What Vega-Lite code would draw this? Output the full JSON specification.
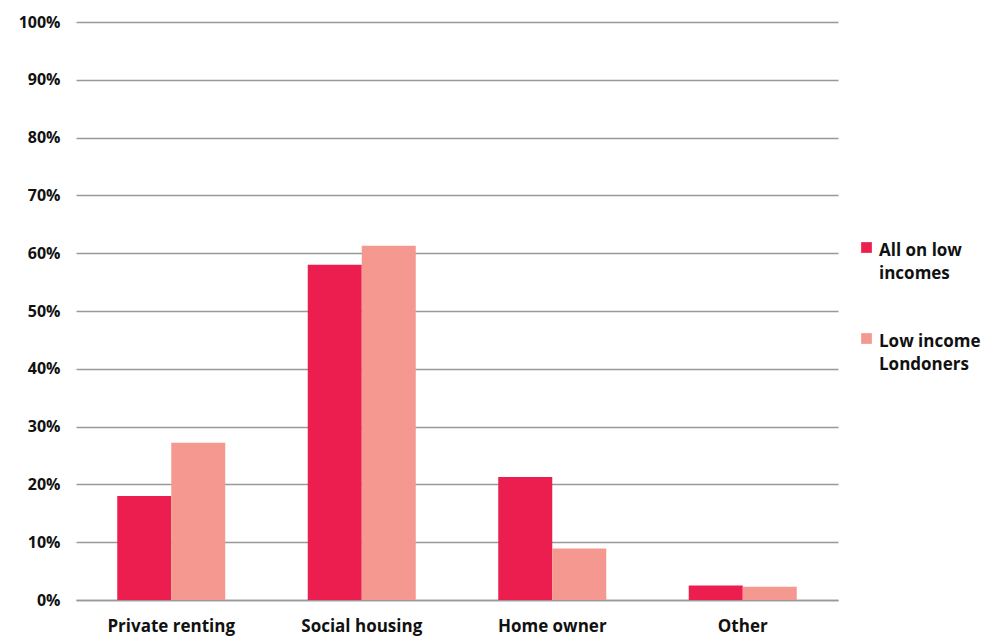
{
  "$schema": "https://vega.github.io/schema/vega-lite/v6.json",
  "width": 762,
  "height": 578,
  "autosize": {"type": "none"},
  "padding": {"left": 76, "top": 22, "right": 151, "bottom": 40},
  "background": "white",
  "config": {
    "view": {"stroke": null},
    "font": "Open Sans"
  },
  "data": {
    "values": [
      {"tenure": "Private renting", "group": "All on low incomes", "value": 18.0},
      {"tenure": "Private renting", "group": "Low income Londoners", "value": 27.2},
      {"tenure": "Social housing", "group": "All on low incomes", "value": 58.0},
      {"tenure": "Social housing", "group": "Low income Londoners", "value": 61.3},
      {"tenure": "Home owner", "group": "All on low incomes", "value": 21.3},
      {"tenure": "Home owner", "group": "Low income Londoners", "value": 8.9},
      {"tenure": "Other", "group": "All on low incomes", "value": 2.5},
      {"tenure": "Other", "group": "Low income Londoners", "value": 2.3}
    ]
  },
  "mark": {"type": "bar"},
  "encoding": {
    "x": {
      "field": "tenure",
      "type": "nominal",
      "sort": ["Private renting", "Social housing", "Home owner", "Other"],
      "scale": {"paddingInner": 0.433, "paddingOuter": 0.2165},
      "axis": {
        "title": null,
        "labelAngle": 0,
        "labelFontSize": 17,
        "labelFontWeight": "bold",
        "labelColor": "#111",
        "labelPadding": 18,
        "ticks": false,
        "domainColor": "#999",
        "domainWidth": 1.5
      }
    },
    "xOffset": {
      "field": "group",
      "type": "nominal",
      "scale": {"paddingInner": 0, "paddingOuter": 0}
    },
    "y": {
      "field": "value",
      "type": "quantitative",
      "scale": {"domain": [0, 100]},
      "axis": {
        "title": null,
        "values": [0, 10, 20, 30, 40, 50, 60, 70, 80, 90, 100],
        "labelExpr": "datum.value + '%'",
        "labelFontSize": 16,
        "labelFontWeight": "bold",
        "labelColor": "#111",
        "labelPadding": 16,
        "ticks": false,
        "domain": false,
        "gridColor": "#999",
        "gridWidth": 1.5
      }
    },
    "color": {
      "field": "group",
      "type": "nominal",
      "scale": {
        "domain": ["All on low incomes", "Low income Londoners"],
        "range": ["#EC1E4F", "#F5988F"]
      },
      "legend": {
        "title": null,
        "orient": "none",
        "legendX": 782,
        "legendY": 217,
        "symbolType": "square",
        "symbolSize": 115,
        "symbolOpacity": 1,
        "symbolStrokeWidth": 0,
        "labelFontSize": 17,
        "labelFontWeight": "bold",
        "labelColor": "#111",
        "labelOffset": 4,
        "labelBaseline": "top",
        "labelExpr": "datum.label == 'All on low incomes' ? ['All on low', 'incomes'] : ['Low income', 'Londoners']",
        "rowPadding": 48,
        "encode": {
          "labels": {"update": {"lineHeight": {"value": 23}, "dy": {"value": -5}}}
        }
      }
    }
  }
}
